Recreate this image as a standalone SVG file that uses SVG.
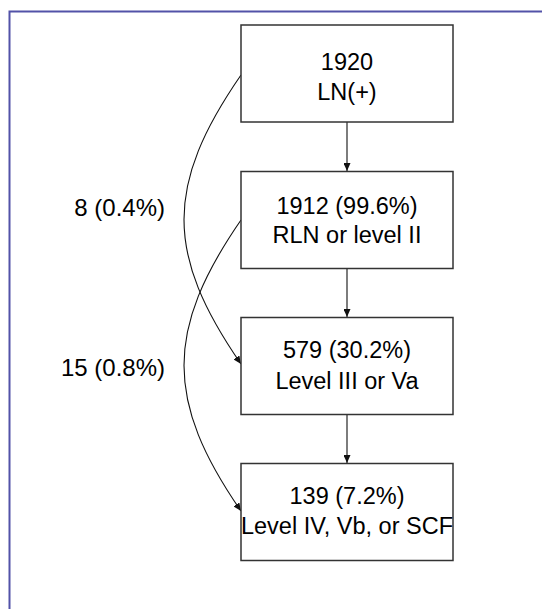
<svg xmlns="http://www.w3.org/2000/svg" width="542" height="609" viewBox="0 0 542 609">
<defs>
<style>
.box{fill:#fff;stroke:#333;stroke-width:1.5}
.t{font-family:"Liberation Sans",Arial,sans-serif;font-size:23.5px;fill:#000;text-anchor:middle}
.lbl{font-family:"Liberation Sans",Arial,sans-serif;font-size:24px;fill:#000;text-anchor:end}
.c{fill:none;stroke:#111;stroke-width:1.1}
</style>
<marker id="ah" markerUnits="userSpaceOnUse" markerWidth="9" markerHeight="7" refX="8" refY="3.5" orient="auto">
<path d="M0,0 L8,3.5 L0,7 z" fill="#111"/>
</marker>
</defs>
<rect width="542" height="609" fill="#fff"/>
<path d="M9.5,609 V11.5 H542" fill="none" stroke="#5252a8" stroke-width="2"/>
<g id="connectors">
<line class="c" x1="347" y1="122" x2="347" y2="171" marker-end="url(#ah)"/>
<line class="c" x1="347" y1="268.5" x2="347" y2="317" marker-end="url(#ah)"/>
<line class="c" x1="347" y1="414.5" x2="347" y2="463" marker-end="url(#ah)"/>
<path class="c" d="M241,75 C165,185 165,254 241,364" marker-end="url(#ah)"/>
<path class="c" d="M241,220 C165,330 165,401 241,511" marker-end="url(#ah)"/>
</g>
<g id="n1">
<rect class="box" x="241" y="25" width="212" height="97"/>
<text class="t" x="347" y="69.5">1920</text>
<text class="t" x="347" y="99.5">LN(+)</text>
</g>
<g id="n2">
<rect class="box" x="241" y="171.5" width="212" height="97"/>
<text class="t" x="347" y="213.5">1912 (99.6%)</text>
<text class="t" x="347" y="243">RLN or level II</text>
</g>
<g id="n3">
<rect class="box" x="241" y="317.5" width="212" height="97"/>
<text class="t" x="347" y="358">579 (30.2%)</text>
<text class="t" x="347" y="388.5">Level III or Va</text>
</g>
<g id="n4">
<rect class="box" x="241" y="463.5" width="212" height="97"/>
<text class="t" x="347" y="503.5">139 (7.2%)</text>
<text class="t" x="347" y="533.5">Level IV, Vb, or SCF</text>
</g>
<g id="labels">
<text class="lbl" x="165" y="216">8 (0.4%)</text>
<text class="lbl" x="165" y="376">15 (0.8%)</text>
</g>
</svg>
